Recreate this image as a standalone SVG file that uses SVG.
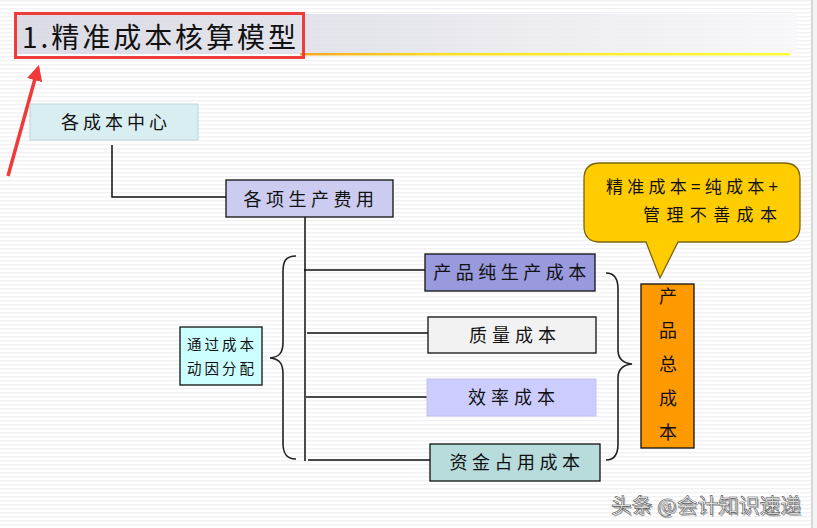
<svg xmlns="http://www.w3.org/2000/svg" width="817" height="528" viewBox="0 0 817 528">
<defs>
<pattern id="stripes" width="8" height="4" patternUnits="userSpaceOnUse">
<rect width="8" height="4" fill="#ffffff"/>
<rect y="0" width="8" height="1.3" fill="#f1f1f3"/>
</pattern>
<linearGradient id="banner" x1="0" y1="0" x2="1" y2="0">
<stop offset="0" stop-color="#d8d8e4"/>
<stop offset="0.45" stop-color="#e2e2ea"/>
<stop offset="1" stop-color="#f8f8fa"/>
</linearGradient>
<linearGradient id="yline" x1="0" y1="0" x2="1" y2="0">
<stop offset="0" stop-color="#f6a623"/>
<stop offset="0.3" stop-color="#f8e020"/>
<stop offset="1" stop-color="#ffff33"/>
</linearGradient>
<marker id="redhead" viewBox="0 0 10 10" refX="8" refY="5" markerWidth="4.5" markerHeight="4.5" orient="auto">
<path d="M0,0 L10,5 L0,10 z" fill="#f03a3a"/>
</marker>
</defs>
<style>
.t{font-family:"Noto Sans CJK SC","Noto Sans",sans-serif;fill:#111;}
.node{stroke:#111;stroke-width:1.3;}
.conn{stroke:#111;stroke-width:1.5;fill:none;}
.brace{stroke:#222;stroke-width:1.6;fill:none;}
</style>
<rect width="817" height="528" fill="url(#stripes)"/>
<rect x="811" y="0" width="2" height="528" fill="#d6d6d6"/>
<rect x="813" y="0" width="4" height="528" fill="#f4f4f4"/>

<g id="title">
<rect x="14" y="14" width="783" height="40" fill="url(#banner)" opacity="0.9"/>
<rect x="300" y="53" width="490" height="2.5" fill="url(#yline)"/>
<rect x="15.5" y="13.5" width="288" height="44" fill="none" stroke="#ee3b3b" stroke-width="3"/>
<text class="t" x="22" y="48" font-size="28" textLength="274" lengthAdjust="spacing">1.精准成本核算模型</text>
</g>

<g id="red-arrow">
<line x1="8" y1="176" x2="38" y2="68" stroke="#f03a3a" stroke-width="3.5" marker-end="url(#redhead)"/>
</g>

<g id="connectors">
<polyline class="conn" points="112,145 112,197 226,197"/>
<line class="conn" x1="305" y1="217" x2="305" y2="461"/>
<line class="conn" x1="304" y1="270" x2="425" y2="270"/>
<line class="conn" x1="307" y1="333" x2="428" y2="333"/>
<line class="conn" x1="306" y1="397" x2="427" y2="397"/>
<line class="conn" x1="308" y1="460" x2="430" y2="460"/>
</g>

<g id="left-brace">
<path class="brace" d="M296,256 C285,256 283,262 283,272 L283,342 C283,352 280,357 270,358 C280,359 283,364 283,374 L283,443 C283,453 286,459 296,459"/>
</g>
<g id="right-brace">
<path class="brace" d="M606,273 C615,273 618,279 618,289 L618,350 C618,358 622,363 632,364 C622,365 618,370 618,378 L618,444 C618,454 615,460 606,460"/>
</g>

<g id="node-centers">
<rect x="30" y="104" width="168" height="36" fill="#d9eef1" stroke="#bcd4d8" stroke-width="1"/>
<text class="t" x="116" y="129" font-size="18" letter-spacing="4" text-anchor="middle">各成本中心</text>
</g>

<g id="node-expenses">
<rect class="node" x="226" y="180" width="167" height="37" fill="#ccccf0"/>
<text class="t" x="311" y="206" font-size="18" letter-spacing="4.5" text-anchor="middle">各项生产费用</text>
</g>

<g id="node-allocation">
<rect class="node" x="180" y="327" width="82" height="58" fill="#ccffff"/>
<text class="t" x="222" y="350" font-size="14.5" letter-spacing="3" text-anchor="middle">通过成本</text>
<text class="t" x="222" y="374" font-size="14.5" letter-spacing="3" text-anchor="middle">动因分配</text>
</g>

<g id="node-pure">
<rect class="node" x="425" y="254" width="170" height="37" fill="#9999dd"/>
<text class="t" x="512" y="279" font-size="18" letter-spacing="4.5" text-anchor="middle">产品纯生产成本</text>
</g>

<g id="node-quality">
<rect class="node" x="428" y="317" width="168" height="36" fill="#f2f2f2"/>
<text class="t" x="515" y="342" font-size="18" letter-spacing="5" text-anchor="middle">质量成本</text>
</g>

<g id="node-efficiency">
<rect x="427" y="379" width="169" height="37" fill="#ccccff" stroke="#c4c4e8" stroke-width="1"/>
<text class="t" x="514" y="404" font-size="18" letter-spacing="5" text-anchor="middle">效率成本</text>
</g>

<g id="node-capital">
<rect class="node" x="430" y="444" width="170" height="37" fill="#b8dcdc"/>
<text class="t" x="517" y="469" font-size="18" letter-spacing="4.5" text-anchor="middle">资金占用成本</text>
</g>

<g id="node-total">
<rect class="node" x="641" y="284" width="53" height="164" fill="#ff9900"/>
<text class="t" x="668" y="303" font-size="18" text-anchor="middle">产</text>
<text class="t" x="668" y="337" font-size="18" text-anchor="middle">品</text>
<text class="t" x="668" y="371" font-size="18" text-anchor="middle">总</text>
<text class="t" x="668" y="405" font-size="18" text-anchor="middle">成</text>
<text class="t" x="668" y="439" font-size="18" text-anchor="middle">本</text>
</g>

<g id="callout">
<path d="M600,163 L784,163 Q800,163 800,179 L800,226 Q800,242 784,242 L678,242 L660,278 L646,242 L600,242 Q584,242 584,226 L584,179 Q584,163 600,163 Z" fill="#ffcc00" stroke="#7a6510" stroke-width="1.3"/>
<text class="t" x="606" y="193" font-size="17" textLength="172" lengthAdjust="spacing">精准成本=纯成本+</text>
<text class="t" x="643" y="221" font-size="17" textLength="134" lengthAdjust="spacing">管理不善成本</text>
</g>

<g id="watermark">
<text x="611" y="513" font-family="Noto Sans CJK SC, sans-serif" font-size="20" fill="#222" opacity="0.35" transform="translate(1.5,1.5)" textLength="190" lengthAdjust="spacingAndGlyphs">头条 @会计知识速递</text>
<text x="611" y="513" font-family="Noto Sans CJK SC, sans-serif" font-size="20" fill="#ffffff" stroke="#555" stroke-width="0.6" textLength="190" lengthAdjust="spacingAndGlyphs">头条 @会计知识速递</text>
</g>
</svg>
